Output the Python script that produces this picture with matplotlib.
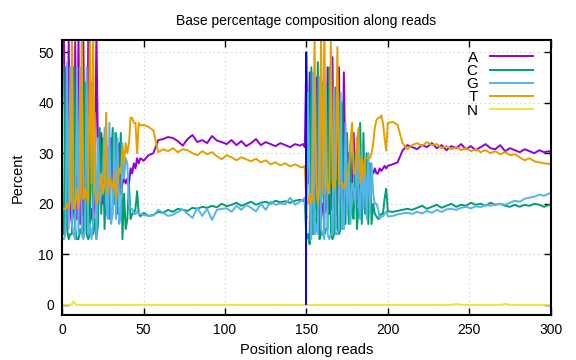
import matplotlib
matplotlib.use("Agg")
import matplotlib.pyplot as plt

plt.rcParams['font.family'] = ['Liberation Sans', 'DejaVu Sans']

# positions: every base in the noisy stretches, every third base elsewhere
pos = (list(range(1, 49)) + list(range(50, 147, 3)) +
       list(range(148, 201)) + list(range(203, 300, 3)) + [300])

base_a = [54, 20, 17, 53, 18, 16, 20, 52, 17, 54, 16, 18, 52, 18, 17, 53, 16, 19, 16, 22,
          54, 30, 22, 34, 20, 26, 18, 31, 22, 33, 24, 20, 28, 25, 32, 22, 24, 25, 24, 25,
          24, 27, 26, 28, 27, 29, 28, 29,
          28.5, 29.6, 30, 32.6, 32.8, 33.2, 33, 32.4, 31.5, 32.8, 33.6, 32.2, 32.6, 32, 33.4, 32.5,
          32.2, 31.8, 32.6, 31.6, 32.4, 31.4, 32, 32.8, 31.6, 32.2, 31.8, 31.4, 32, 31.6, 31.2, 31.8, 31.5,
          31.8, 31.2, 50, 24, 46, 20, 18, 19, 45, 18, 19, 17, 20, 18, 19, 47, 18, 19, 49, 20,
          18, 20, 47, 19, 21, 46, 24, 22, 30, 20, 22, 34, 24, 20, 26, 23, 24, 22, 25, 24,
          25, 25, 26, 26, 27, 26, 26, 27, 26.5, 27, 27.5, 27, 27.5,
          27.8, 28.2, 30.5, 31.6, 31.2, 30.8, 31.6, 31.2, 32, 31, 31.6, 30.6, 31.4, 31, 31.8, 30.8,
          31.4, 30.6, 31.2, 31.8, 31, 30.8, 31.6, 30.4, 31, 30.6, 30.2, 30.8, 30.4, 30, 30.6, 30.2, 30.4, 30.2]

base_c = [14, 47, 15, 13, 14, 14, 47, 15, 13, 13, 15, 14, 14, 44, 14, 13, 14, 44, 14, 17,
          13, 16, 35, 18, 33, 15, 24, 30, 17, 27, 35, 20, 34, 18, 25, 34, 13, 22, 15, 17,
          24, 17, 18, 18, 19, 22.5, 18, 17.5,
          18.2, 17.6, 17.8, 18.4, 18.2, 18.8, 18.4, 19, 18.8, 18.6, 19.2, 19, 19.4, 19.2, 19.6, 19.3,
          20, 19.5, 19.8, 20.2, 19.6, 20, 20.4, 19.8, 20.2, 20.4, 20, 20.6, 20.3, 20.5, 20.2, 20.6, 20.8,
          20.6, 20.4, 13, 14, 12, 47, 14, 14, 15, 48, 13, 14, 44, 14, 15, 15, 47, 14, 13, 14,
          43, 15, 14, 15, 40, 16, 16, 34, 16, 32, 18, 17, 30, 15, 19, 36, 16, 34, 18, 30,
          16, 28, 16, 20, 18, 17.5, 17, 17.5, 18, 18, 21, 23, 18.5,
          18.4, 18.6, 18.8, 19, 18.8, 19.2, 19.6, 19, 19.4, 19.8, 19.2, 19.6, 20, 19.4, 19.8, 19.6,
          20.2, 19.8, 20, 19.6, 20.2, 19.8, 20, 19.6, 19.4, 19.8, 19.4, 19.8, 19.6, 20, 19.8, 19.4, 19.8, 19.6]

base_g = [13, 14, 48, 15, 47, 16, 14, 13, 47, 14, 47, 14, 13, 15, 47, 14, 16, 13, 16, 38,
          13, 33, 20, 22, 25, 35, 20, 17, 36, 16, 18, 34, 17, 33, 16, 18, 32, 25, 29, 28,
          20, 19, 19, 18, 18, 18.5, 18, 18,
          17.8, 17.6, 17.7, 18.8, 18.2, 17.6, 17.8, 18.4, 18.9, 18, 17.2, 19.2, 17.6, 19, 16.8, 18.8,
          19, 19.1, 18.4, 19.6, 18.8, 19.8, 19.2, 18.5, 20, 18.8, 20.4, 19.8, 20.1, 19.9, 21.2, 19.8, 20.4,
          20.8, 21.2, 17, 42, 20, 13, 46, 14, 16, 14, 45, 15, 14, 13, 43, 14, 13, 14, 14, 43,
          14, 14, 15, 42, 15, 15, 36, 18, 28, 16, 24, 23, 20, 33, 20, 17, 31, 19, 28, 17,
          30, 18, 28, 22, 20, 20, 19, 17, 17.5, 17.5, 18, 18.5, 17.5,
          17.6, 17.9, 18.1, 18.2, 18, 18.4, 18.1, 18.6, 18.2, 18.8, 18.4, 18.9, 19, 18.8, 19.2, 19.4,
          19.1, 19.5, 19.3, 19.8, 19.6, 19.9, 20, 19.8, 20.2, 20.6, 20.4, 21, 21.2, 21.4, 21.8, 21.6, 22, 22.2]

base_t = [19, 19, 20, 19, 21, 54, 19, 20, 23, 19, 22, 54, 21, 23, 22, 20, 54, 24, 54, 23,
          20, 21, 23, 26, 22, 24, 38, 22, 25, 24, 23, 26, 21, 24, 27, 26, 31, 28, 32, 30,
          32, 37, 37, 36, 36, 30, 36, 35.5,
          35.6, 35.2, 34.5, 30.2, 30.8, 30.4, 31, 30.2, 30.8, 30.6, 30, 29.6, 30.4, 29.8, 30.2, 29.4,
          28.8, 29.6, 29.2, 28.6, 29.2, 28.8, 28.4, 28.9, 28.2, 28.6, 27.8, 28.2, 27.6, 28, 27.4, 27.8, 27.3,
          27.2, 27.5, 20, 20, 22, 20, 22, 53, 24, 20, 23, 54, 22, 55, 23, 24, 22, 53, 24, 23,
          25, 51, 24, 24, 24, 23, 24, 26, 26, 32, 36, 26, 26, 32, 35, 24, 29, 25, 29, 29,
          29, 29, 30, 32, 35, 36.5, 37, 37, 37.5, 36, 33, 30.5, 36,
          36.2, 35.6, 32, 30.8, 31.6, 32, 31.4, 32.2, 31.6, 31.8, 31, 31.4, 30.8, 31.2, 30.6, 31,
          30.4, 30.8, 30.2, 30.6, 30, 30.4, 29.8, 30.2, 29.6, 29.8, 29.2, 28.6, 29, 28.4, 28.2, 28, 27.9, 27.8]

base_n = [0, 0, 0, 0, 0, 0.2, 0.7, 0.2] + [0] * 139 + [0.2] + [0] * 9 + [0.2] + [0] * 10

series = [('A', base_a, '#9400d3'), ('C', base_c, '#009e73'), ('G', base_g, '#56b4e9'),
          ('T', base_t, '#e69f00'), ('N', base_n, '#f0e442')]

junction = 150
junction_top = 50

fig = plt.figure(figsize=(5.76, 3.6), dpi=100)
ax = fig.add_axes([0.108, 0.125, 0.848, 0.764])

for name, vals, col in series:
    ax.plot(pos, vals, color=col, lw=1.4, label=name)

ax.vlines(junction, 0, junction_top, color='#0000ff', lw=1.4, zorder=5)

ax.set_xlim(0, 300)
ax.set_ylim(-2, 52.4)
ax.set_xticks([0, 50, 100, 150, 200, 250, 300])
ax.set_yticks([0, 10, 20, 30, 40, 50])
ax.tick_params(direction='in', length=5, width=1, top=True, right=True, labelsize=10, pad=6)
ax.grid(True, color='#c8c8c8', linestyle=(0, (1, 3)), lw=0.8)
for sp in ax.spines.values():
    sp.set_linewidth(1.5)

ax.set_title('Base percentage composition along reads', fontsize=10, pad=11)
ax.set_xlabel('Position along reads', fontsize=10.5, labelpad=4)
ax.set_ylabel('Percent', fontsize=10.5, labelpad=10)

leg = ax.legend(loc='upper right', frameon=False, markerfirst=False, fontsize=11,
                handlelength=2.8, handletextpad=0.8, labelspacing=-0.05,
                borderaxespad=0.3, bbox_to_anchor=(0.985, 1.0))
for t in leg.get_texts():
    t.set_ha('right')

fig.savefig('out.png', dpi=100)
